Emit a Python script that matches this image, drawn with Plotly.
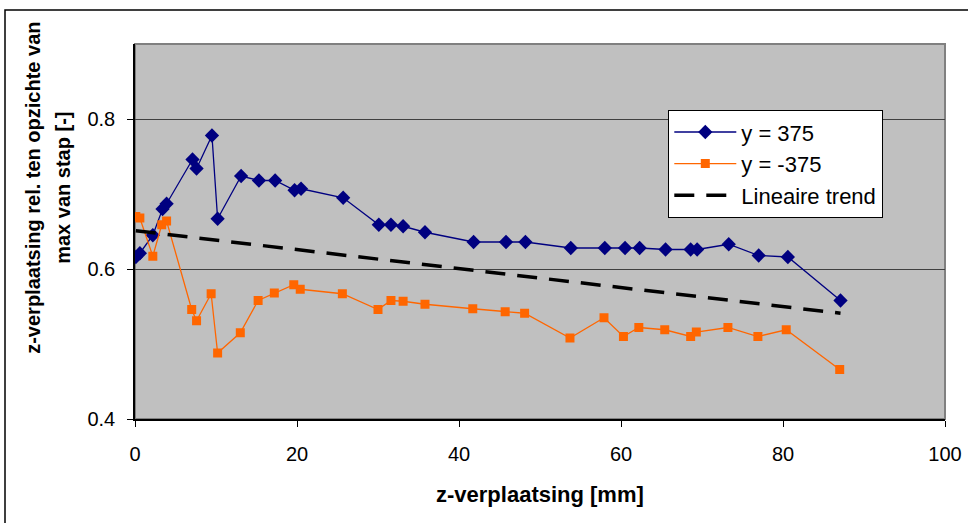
import plotly.graph_objects as go

x_pos = [0.1, 0.6, 2.2, 3.4, 3.9, 7.1, 7.6, 9.5, 10.2, 13.1, 15.3, 17.3, 19.7, 20.5, 25.7,
         30.1, 31.6, 33.1, 35.8, 41.8, 45.8, 48.2, 53.8, 58.0, 60.5, 62.3, 65.5, 68.6, 69.4,
         73.3, 77.0, 80.6, 87.1]
y_pos = [0.616, 0.621, 0.645, 0.680, 0.687, 0.746, 0.734, 0.778, 0.667, 0.724, 0.718, 0.718,
         0.705, 0.707, 0.695, 0.659, 0.659, 0.657, 0.649, 0.636, 0.636, 0.636, 0.628, 0.628,
         0.628, 0.628, 0.626, 0.626, 0.626, 0.633, 0.618, 0.616, 0.558]

x_neg = [0.1, 0.6, 2.2, 3.3, 3.9, 7.0, 7.6, 9.4, 10.2, 13.0, 15.2, 17.2, 19.6, 20.4, 25.6,
         30.0, 31.6, 33.1, 35.8, 41.7, 45.7, 48.1, 53.7, 57.9, 60.3, 62.2, 65.4, 68.6, 69.3,
         73.2, 76.9, 80.4, 87.0]
y_neg = [0.670, 0.668, 0.617, 0.659, 0.664, 0.546, 0.531, 0.567, 0.488, 0.515, 0.558, 0.568,
         0.579, 0.573, 0.567, 0.546, 0.558, 0.557, 0.553, 0.547, 0.543, 0.541, 0.508, 0.535,
         0.510, 0.522, 0.519, 0.510, 0.516, 0.522, 0.510, 0.519, 0.466]

trend_x = [0.1, 87.1]
trend_y = [0.651, 0.541]

x_ticks = [0, 20, 40, 60, 80, 100]
y_ticks = [0.4, 0.6, 0.8]

x_title = "z-verplaatsing [mm]"
y_title_lines = ["z-verplaatsing rel. ten opzichte van", "max van stap [-]"]

font_family = "Liberation Sans, Arial, sans-serif"

L, R, T, B = 135, 23, 44, 103.5
W, H = 968, 523
PW, PH = W - L - R, H - T - B


def px_x(px):
    return (px - L) / PW


def px_y(py):
    return (H - B - py) / PH


fig = go.Figure()
fig.add_trace(go.Scatter(x=x_pos, y=y_pos, mode="lines+markers", name="y = 375",
                         line=dict(color="#000080", width=1.3),
                         marker=dict(symbol="diamond", size=11, color="#000080")))
fig.add_trace(go.Scatter(x=x_neg, y=y_neg, mode="lines+markers", name="y = -375",
                         line=dict(color="#FF6600", width=1.3),
                         marker=dict(symbol="square", size=9, color="#FF6600")))
fig.add_trace(go.Scatter(x=trend_x, y=trend_y, mode="lines", name="Lineaire trend",
                         line=dict(color="black", width=3.5, dash="20px,12px")))

# outer chart border
fig.add_shape(type="rect", xref="paper", yref="paper",
              x0=px_x(5), x1=px_x(990), y0=px_y(540), y1=px_y(10),
              line=dict(color="black", width=1.5), fillcolor="rgba(0,0,0,0)", layer="below")
# plot area border (gray top/right)
fig.add_shape(type="rect", xref="paper", yref="paper", x0=0, x1=1, y0=0, y1=1,
              line=dict(color="#808080", width=2), fillcolor="rgba(0,0,0,0)", layer="below")

# axis titles
fig.add_annotation(text="<b>" + x_title + "</b>", xref="paper", yref="paper",
                   x=px_x(540), y=px_y(495), xanchor="center", yanchor="middle",
                   showarrow=False, font=dict(size=22))
for cx, line in zip([33, 63], y_title_lines):
    fig.add_annotation(text="<b>" + line + "</b>", xref="paper", yref="paper",
                       x=px_x(cx), y=px_y(188), xanchor="center", yanchor="middle",
                       textangle=-90, showarrow=False, font=dict(size=20))

fig.update_layout(
    width=W, height=H,
    margin=dict(l=L, r=R, t=T, b=B),
    paper_bgcolor="white", plot_bgcolor="#C0C0C0",
    font=dict(family=font_family, size=20, color="black"),
    showlegend=True,
    legend=dict(x=px_x(668), y=px_y(110), xanchor="left", yanchor="top",
                bgcolor="white", bordercolor="black", borderwidth=1.3,
                font=dict(size=22), tracegroupgap=0, itemwidth=62),
    xaxis=dict(range=[0, 100], tickvals=x_ticks, ticks="outside", ticklen=6, tickcolor="black",
               showline=True, linecolor="black", linewidth=1.5, showgrid=False, zeroline=False,
               tickfont=dict(size=20), ticklabelstandoff=10, automargin=False),
    yaxis=dict(range=[0.4, 0.9], tickvals=y_ticks, tickformat=".1f", ticks="outside", ticklen=6,
               tickcolor="black", showline=True, linecolor="black", linewidth=1.5,
               showgrid=True, gridcolor="#404040", gridwidth=1.2, zeroline=False,
               tickfont=dict(size=20), ticklabelstandoff=8, automargin=False),
)

fig.write_html("out.html", config={"displayModeBar": False},
               post_script="document.body.style.margin='0';")
